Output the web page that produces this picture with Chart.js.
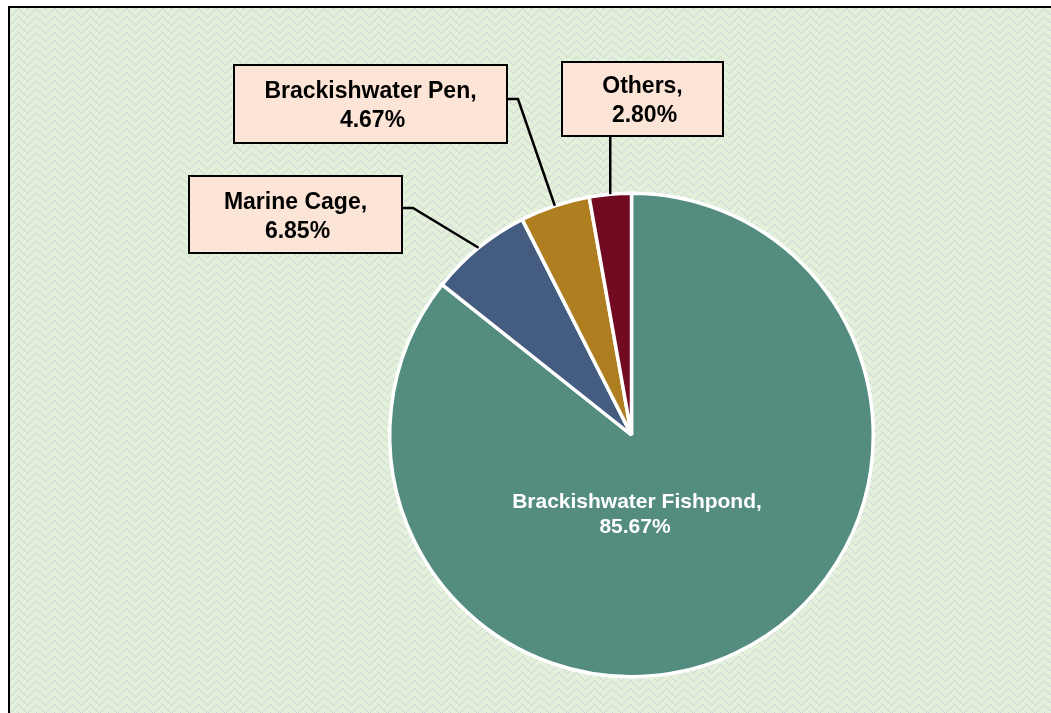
<!DOCTYPE html>
<html>
<head>
<meta charset="utf-8">
<script src="https://cdn.jsdelivr.net/npm/chart.js@4/dist/chart.umd.min.js"></script>
<style>
  html, body { margin: 0; padding: 0; background: #fff; }
  #wrap { width: 1051px; height: 713px; position: relative; }
</style>
</head>
<body>
<div id="wrap"><canvas id="mainChart" width="1051" height="713"></canvas></div>
<script>
// ===== DATA =====
const categories = ["Brackishwater Fishpond", "Marine Cage", "Brackishwater Pen", "Others"];
const shares = [85.67, 6.85, 4.67, 2.80];
const sliceColors = ["#548C80", "#445C80", "#AE7E20", "#720A22"];

// callout boxes (layout only), null = label drawn inside slice
const calloutBoxes = [
  null,
  { x: 189, y: 176, w: 213, h: 77, elbow: [413, 208], end: [402, 208] },
  { x: 234, y: 65, w: 273, h: 78, elbow: [518, 99], end: [507, 99] },
  { x: 562, y: 62, w: 161, h: 74, elbow: null, end: null }
];

// ==========================
// Background: woven green pattern + frame
// ==========================
function makePattern(ctx) {
  const tile = document.createElement("canvas");
  tile.width = 18; tile.height = 16;
  const t = tile.getContext("2d");
  t.fillStyle = "#E3F0DA";
  t.fillRect(0, 0, 18, 16);
  t.fillStyle = "#D0D0D9";
  for (let y = 0; y < 16; y++) {
    for (let x = 0; x < 18; x++) {
      const d = (y + Math.abs(x - 9)) % 8;
      if (d < 3 && (x + y) % 2 === 0) t.fillRect(x, y, 1, 1);
    }
  }
  return ctx.createPattern(tile, "repeat");
}

const backgroundPlugin = {
  id: "bg",
  beforeDraw(chart) {
    const ctx = chart.ctx;
    ctx.save();
    ctx.fillStyle = "#ffffff";
    ctx.fillRect(0, 0, chart.width, chart.height);
    ctx.fillStyle = makePattern(ctx);
    ctx.fillRect(9, 7, chart.width, chart.height);
    ctx.strokeStyle = "#000";
    ctx.lineWidth = 2;
    ctx.strokeRect(9, 7, chart.width + 10, chart.height + 10);
    ctx.restore();
  }
};

// ==========================
// Callout labels
// ==========================
const calloutPlugin = {
  id: "callouts",
  afterDatasetsDraw(chart) {
    const ctx = chart.ctx;
    const meta = chart.getDatasetMeta(0);
    ctx.save();
    ctx.textAlign = "center";
    ctx.textBaseline = "middle";

    meta.data.forEach((arc, i) => {
      const text1 = categories[i] + ",";
      const text2 = shares[i].toFixed(2) + "%";
      const box = calloutBoxes[i];
      if (!box) {
        ctx.font = "bold 21px 'Liberation Sans', Arial, sans-serif";
        ctx.fillStyle = "#ffffff";
        ctx.fillText(text1, 637, 502);
        ctx.fillText(text2, 635, 527);
        return;
      }
      const mid = (arc.startAngle + arc.endAngle) / 2;
      const px = arc.x + Math.cos(mid) * arc.outerRadius;
      const py = arc.y + Math.sin(mid) * arc.outerRadius;

      // leader line
      ctx.strokeStyle = "#000";
      ctx.lineWidth = 2.5;
      ctx.beginPath();
      ctx.moveTo(px, py);
      if (box.elbow) {
        ctx.lineTo(box.elbow[0], box.elbow[1]);
        ctx.lineTo(box.end[0], box.end[1]);
      } else {
        ctx.lineTo(px, box.y + box.h);
      }
      ctx.stroke();

      // box
      ctx.fillStyle = "#FCE4D6";
      ctx.fillRect(box.x, box.y, box.w, box.h);
      ctx.lineWidth = 2;
      ctx.strokeRect(box.x, box.y, box.w, box.h);

      ctx.font = "bold 23px 'Liberation Sans', Arial, sans-serif";
      ctx.fillStyle = "#000";
      const cx = box.x + box.w / 2;
      const cy = box.y + box.h / 2;
      ctx.fillText(text1, cx, cy - 12);
      ctx.fillText(text2, cx + 2, cy + 17);
    });
    ctx.restore();
  }
};

// ==========================
// Render Chart.js Chart
// ==========================
new Chart(document.getElementById("mainChart"), {
  type: "pie",
  data: {
    labels: categories,
    datasets: [{
      data: shares,
      backgroundColor: sliceColors,
      borderColor: "#ffffff",
      borderWidth: 3.5
    }]
  },
  options: {
    responsive: false,
    animation: false,
    layout: { padding: { top: 191, bottom: 34, left: 388, right: 176 } },
    plugins: {
      legend: { display: false },
      tooltip: { enabled: false }
    }
  },
  plugins: [backgroundPlugin, calloutPlugin]
});
</script>
</body>
</html>
